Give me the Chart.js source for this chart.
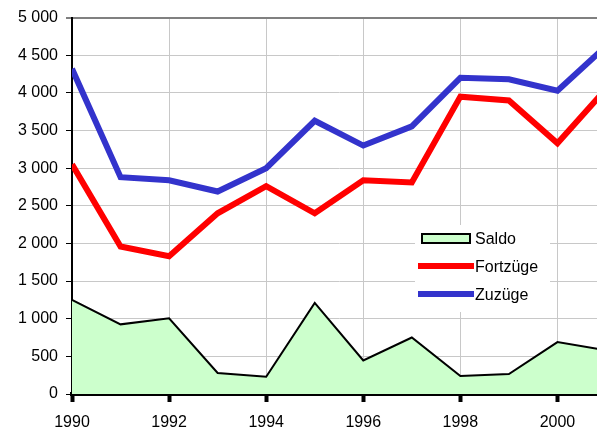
<!DOCTYPE html>
<html>
<head>
<meta charset="utf-8">
<script src="https://cdn.jsdelivr.net/npm/chart.js@4/dist/chart.umd.min.js"></script>
<style>
html,body{margin:0;padding:0;background:#fff;overflow:hidden;width:597px;height:433px;}
#wrap{position:absolute;left:0;top:0;width:606px;height:433px;}
</style>
</head>
<body>
<div id="wrap"><canvas id="c" width="606" height="433"></canvas></div>
<script>
const years = [1990,1991,1992,1993,1994,1995,1996,1997,1998,1999,2000,2001];
const saldo = [1250,925,1005,280,230,1210,445,750,240,265,690,580];
const fortzuege = [3050,1960,1830,2400,2760,2400,2840,2810,3950,3900,3330,4050];
const zuzuege = [4320,2880,2840,2690,3000,3630,3300,3555,4200,4180,4030,4620];
const labels = ['Saldo','Fortzüge','Zuzüge'];
const yTicksStep = 500;

const FONT = "'Liberation Sans', Arial, sans-serif";
const pts = arr => arr.map((v,i)=>({x:years[i],y:v}));

const legendPlugin = {
  id:'customLegend',
  afterDraw(chart){
    const ctx = chart.ctx;
    ctx.save();
    ctx.fillStyle='#fff';
    ctx.fillRect(415,225,135,87);
    const ds = chart.data.datasets;
    const rows = [239,267,295];
    ctx.font = "16px " + FONT;
    ctx.textBaseline='middle';
    ctx.textAlign='left';
    ds.forEach((d,i)=>{
      const y = rows[i];
      if(i===0){
        ctx.fillStyle=d.backgroundColor;
        ctx.fillRect(422,234,48,9);
        ctx.strokeStyle='#000';ctx.lineWidth=2;
        ctx.strokeRect(422,234,48,9);
      } else {
        ctx.fillStyle=d.borderColor;
        ctx.fillRect(418,y-4,56,6);
      }
      ctx.fillStyle='#000';
      ctx.fillText(d.label,475,y+1);
    });
    ctx.restore();
  }
};

new Chart(document.getElementById('c'),{
  type:'line',
  data:{
    datasets:[
      {label:labels[0],data:pts(saldo),borderColor:'#000',borderWidth:2,backgroundColor:'#ccffcc',fill:'origin',pointRadius:0,tension:0,order:3},
      {label:labels[1],data:pts(fortzuege),borderColor:'#ff0000',borderWidth:6,fill:false,pointRadius:0,tension:0,order:2,borderJoinStyle:'miter'},
      {label:labels[2],data:pts(zuzuege),borderColor:'#3333cc',borderWidth:6,fill:false,pointRadius:0,tension:0,order:1,borderJoinStyle:'miter'}
    ]
  },
  options:{
    responsive:false,
    animation:false,
    devicePixelRatio:1,
    layout:{padding:{top:17,right:0,left:0,bottom:0}},
    plugins:{legend:{display:false},tooltip:{enabled:false}},
    scales:{
      x:{
        type:'linear',min:1990,max:2001,
        afterFit(s){s.height=39;},
        ticks:{stepSize:2,font:{size:16,family:FONT},color:'#000',padding:11,callback:v=>String(v),maxRotation:0,autoSkip:false,includeBounds:false},
        grid:{color:'#c8c8c8',lineWidth:1,tickLength:8,tickColor:'#000',tickWidth:4},
        border:{color:'#000',width:4}
      },
      y:{
        min:0,max:5000,
        afterFit(s){s.width=72;},
        ticks:{stepSize:yTicksStep,font:{size:16,family:FONT},color:'#000',padding:8,callback:v=>v>=1000?Math.floor(v/1000)+' '+String(v%1000).padStart(3,'0'):String(v)},
        grid:{color:c=>c.tick&&c.tick.value===5000?'#808080':'#c8c8c8',lineWidth:c=>c.tick&&c.tick.value===5000?2:1,tickLength:6,tickColor:'#000',tickWidth:1},
        border:{color:'#000',width:2}
      }
    }
  },
  plugins:[legendPlugin]
});
</script>
</body>
</html>
